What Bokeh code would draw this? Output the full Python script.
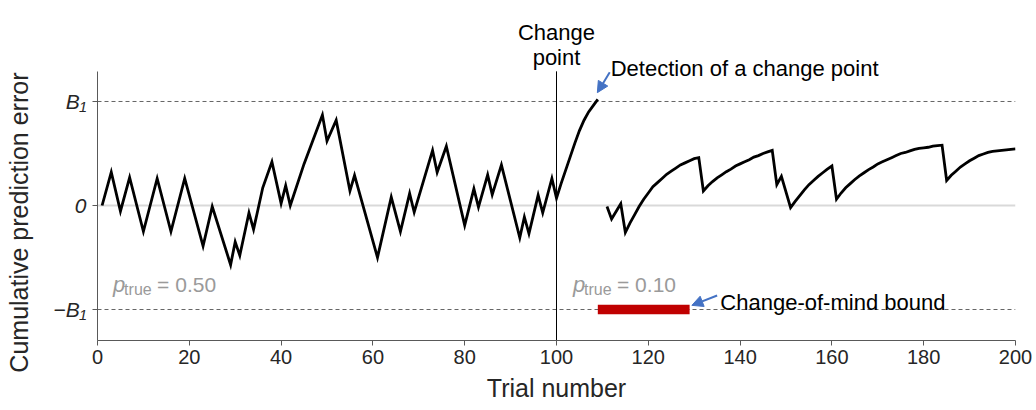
from bokeh.plotting import figure
from bokeh.models import Range1d, FixedTicker, Span, Label, Arrow, NormalHead
from bokeh.embed import file_html
from bokeh.resources import INLINE

# ---------------- data ----------------
trial_pre = [1, 3, 5, 7, 10, 13, 16, 19, 23, 25, 29, 30, 31, 33, 34, 36, 38, 40, 41, 42,
             45, 49, 50, 52, 55, 56, 61, 64, 66, 68, 69, 73, 74, 76, 80, 82, 83, 85, 86,
             88, 92, 93, 94, 96, 97, 99, 100, 101, 102, 103, 104, 105, 106, 107, 108, 109]
cpe_pre = [0.0, 0.32, -0.055, 0.27, -0.25, 0.26, -0.25, 0.26, -0.39, -0.01, -0.57, -0.35,
           -0.48, -0.07, -0.23, 0.17, 0.42, 0.02, 0.19, 0.0, 0.40, 0.87, 0.62, 0.82, 0.14,
           0.29, -0.50, 0.08, -0.25, 0.115, -0.065, 0.53, 0.32, 0.57, -0.19, 0.16, -0.016,
           0.295, 0.105, 0.39, -0.31, -0.11, -0.27, 0.10, -0.07, 0.26, 0.07, 0.21, 0.34,
           0.47, 0.60, 0.72, 0.82, 0.90, 0.96, 1.02]

trial_post = [111, 112, 114, 115, 116, 117, 118, 119, 120, 121, 122, 123, 124, 125, 126,
              127, 128, 129, 130, 131, 132, 133, 134, 135, 136, 137, 138, 139, 140, 141,
              142, 143, 144, 145, 146, 147, 148, 149, 151, 152, 153, 154, 155, 156, 157,
              158, 159, 160, 161, 162, 163, 164, 165, 166, 167, 168, 169, 170, 171, 172,
              173, 174, 175, 176, 177, 178, 179, 180, 181, 182, 183, 184, 185, 186, 187,
              188, 189, 190, 191, 192, 193, 194, 195, 196, 197, 198, 199, 200]
cpe_post = [-0.01, -0.13, 0.016, -0.26, -0.17, -0.09, -0.01, 0.06, 0.12, 0.18, 0.22, 0.26,
            0.30, 0.33, 0.36, 0.39, 0.41, 0.43, 0.45, 0.46, 0.14, 0.19, 0.23, 0.265, 0.295,
            0.325, 0.35, 0.38, 0.40, 0.42, 0.44, 0.465, 0.48, 0.50, 0.515, 0.53, 0.20, 0.28,
            -0.02, 0.04, 0.095, 0.15, 0.20, 0.24, 0.28, 0.315, 0.35, 0.38, 0.06, 0.12, 0.17,
            0.21, 0.25, 0.285, 0.315, 0.345, 0.37, 0.40, 0.42, 0.44, 0.46, 0.48, 0.50, 0.51,
            0.525, 0.54, 0.55, 0.555, 0.56, 0.57, 0.575, 0.58, 0.24, 0.29, 0.33, 0.37, 0.40,
            0.43, 0.455, 0.48, 0.495, 0.51, 0.52, 0.525, 0.53, 0.535, 0.54, 0.545]

x_ticks = [0, 20, 40, 60, 80, 100, 120, 140, 160, 180, 200]
y_ticks = [-1, 0, 1]
y_tick_labels = {-1: "\u2212B\u2081", 0: "0", 1: "B\u2081"}
bound = 1.0
change_point = 100
cmb_start, cmb_end = 109, 129

FONT = "Liberation Sans"
BLUE = "#4472C4"
GRAY_TXT = "#9a9a9a"
AX = "#595959"
TXT = "#262626"

y_lo, y_hi = -1.298, 1.971
axis_top = 1.29

p = figure(frame_width=918, frame_height=340, output_backend="svg", toolbar_location=None,
           x_range=Range1d(0, 200), y_range=Range1d(y_lo, y_hi),
           min_border_left=97, min_border_right=21, min_border_top=0, min_border_bottom=70)
p.outline_line_color = None
p.grid.visible = False
p.background_fill_color = "white"
p.border_fill_color = "white"

# x axis
xa = p.xaxis[0]
xa.ticker = FixedTicker(ticks=x_ticks)
xa.bounds = (0, 200)
xa.axis_line_color = AX
xa.major_tick_line_color = AX
xa.major_tick_out = 5
xa.major_tick_in = 0
xa.minor_tick_line_color = None
xa.major_label_text_font = FONT
xa.major_label_text_font_size = "20px"
xa.major_label_text_color = TXT
xa.major_label_standoff = 4
xa.axis_label = "Trial number"
xa.axis_label_text_font = FONT
xa.axis_label_text_font_size = "25px"
xa.axis_label_text_font_style = "normal"
xa.axis_label_text_color = TXT
xa.axis_label_standoff = 7

# y axis
ya = p.yaxis[0]
ya.ticker = FixedTicker(ticks=y_ticks)
ya.bounds = (y_lo, axis_top)
ya.major_label_overrides = y_tick_labels
ya.major_label_text_font = FONT
ya.major_label_text_font_size = "21px"
ya.major_label_text_font_style = "italic"
ya.major_label_text_color = TXT
ya.major_label_standoff = 6
ya.axis_line_color = AX
ya.major_tick_line_color = AX
ya.major_tick_out = 5
ya.major_tick_in = 0
ya.minor_tick_line_color = None
# trailing spaces shift the centred label downwards to sit beside the axis span
ya.axis_label = "Cumulative prediction error" + " " * 15
ya.axis_label_text_font = FONT
ya.axis_label_text_font_size = "25px"
ya.axis_label_text_font_style = "normal"
ya.axis_label_text_color = TXT
ya.axis_label_standoff = 18

# reference lines
p.add_layout(Span(location=0, dimension="width", line_color="#d9d9d9", line_width=2, level="underlay"))
for loc in (bound, -bound):
    p.add_layout(Span(location=loc, dimension="width", line_color="#666666", line_width=1,
                      line_dash="4 3", level="underlay"))
p.segment(x0=[change_point], y0=[y_lo], x1=[change_point], y1=[axis_top], line_color="black", line_width=1)

# change-of-mind bound
p.hbar(y=[-bound], left=[cmb_start], right=[cmb_end], height=0.09, fill_color="#c00000", line_color=None)

# trajectory
p.line(trial_pre, cpe_pre, line_color="black", line_width=2.8, line_join="miter")
p.line(trial_post, cpe_post, line_color="black", line_width=2.8, line_join="miter")

# arrows
p.add_layout(Arrow(end=NormalHead(size=11, fill_color=BLUE, line_color=BLUE),
                   x_start=111.6, y_start=1.282, x_end=108.9, y_end=1.085,
                   line_color=BLUE, line_width=2))
p.add_layout(Arrow(end=NormalHead(size=11, fill_color=BLUE, line_color=BLUE),
                   x_start=135.0, y_start=-0.865, x_end=129.5, y_end=-0.96,
                   line_color=BLUE, line_width=2))

def lab(x, y, text, size="22px", color="black", align="left", style="normal", xo=0):
    p.add_layout(Label(x=x, y=y, text=text, text_font=FONT, text_font_size=size,
                       text_color=color, text_align=align, text_baseline="alphabetic",
                       text_font_style=style, x_offset=xo))

lab(change_point, 1.666, "Change", align="center")
lab(change_point, 1.420, "point", align="center")
lab(111.8, 1.314, "Detection of a change point")
lab(135.7, -0.93, "Change-of-mind bound")

# p_true labels
for x0, txt in ((3.4, "= 0.50"), (103.6, "= 0.10")):
    lab(x0, -0.76, "p", size="22px", color=GRAY_TXT, style="italic")
    lab(x0, -0.81, "true", size="16px", color=GRAY_TXT, xo=11)
    lab(x0, -0.76, txt, size="21px", color=GRAY_TXT, xo=44)

open("out.html", "w").write(file_html(p, INLINE))
